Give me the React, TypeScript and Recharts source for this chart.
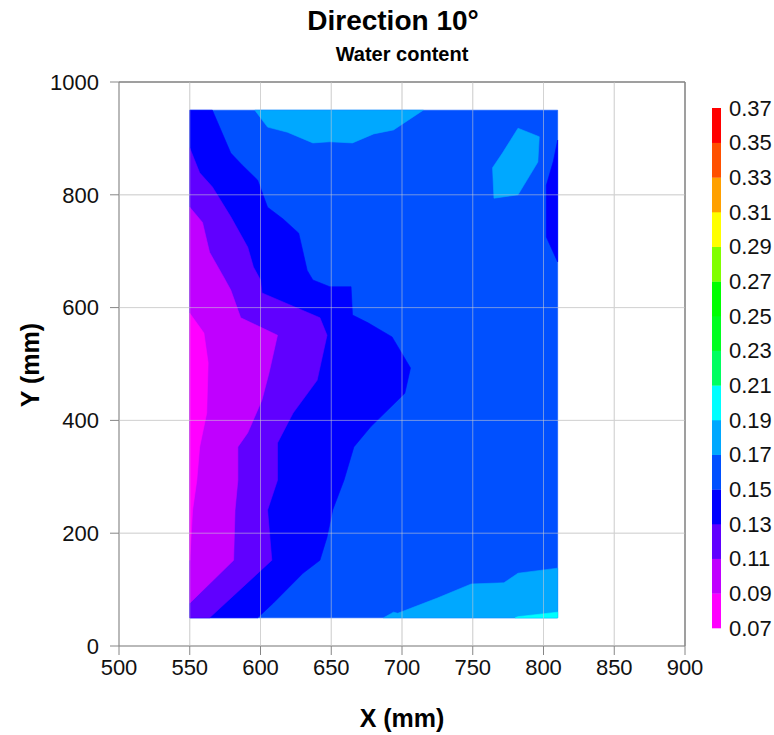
import { CartesianGrid, ReferenceLine, Scatter, ScatterChart, XAxis, YAxis } from "recharts";

const X_TICKS = [500, 550, 600, 650, 700, 750, 800, 850, 900];
const Y_TICKS = [0, 200, 400, 600, 800, 1000];

// colour bins, lower bound -> colour
const LEVELS = [0.07, 0.09, 0.11, 0.13, 0.15, 0.17, 0.19, 0.21, 0.23, 0.25, 0.27, 0.29, 0.31, 0.33, 0.35, 0.37];
const LEVEL_COLORS = [
  "#ff00ff", "#c000ff", "#6000ff", "#0000ff", "#0050ff", "#00a8ff", "#00ffff", "#00ff60",
  "#00ff20", "#00ff00", "#80ff00", "#ffff00", "#ffa000", "#ff5000", "#ff0000",
];

type Pt = [number, number];

// filled contour regions, in X/Y mm
const FIELD_015: Pt[] = [[550, 50], [810, 50], [810, 950], [550, 950]];
const TOP_017: Pt[] = [
  [596, 950], [605, 920], [619, 911], [637, 892], [649, 894], [665, 892], [680, 908], [694, 915], [715, 950],
];
const BLOB_017: Pt[] = [[782, 918], [797, 903], [796, 858], [782, 800], [765, 794], [764, 848], [771, 874]];
const BOTTOM_017: Pt[] = [
  [687, 50], [694, 60], [697, 58], [725, 85], [749, 110], [772, 112], [782, 129], [810, 138], [810, 50],
];
const BOTTOM_019: Pt[] = [[780, 50], [782, 52], [810, 60], [810, 50]];
const LEFT_013: Pt[] = [
  [550, 950], [566, 950], [579, 874], [587, 853], [598, 826], [605, 778], [616, 757], [627, 732],
  [633, 666], [637, 649], [649, 637], [664, 637], [665, 587], [676, 573], [693, 548], [706, 493],
  [702, 448], [678, 389], [666, 353], [659, 294], [651, 241], [647, 193], [642, 152], [630, 129],
  [609, 76], [598, 50], [550, 50],
];
const RIGHT_013: Pt[] = [[810, 897], [807, 860], [802, 817], [802, 725], [810, 681]];
const LEFT_011: Pt[] = [
  [550, 883], [557, 839], [566, 814], [579, 761], [591, 707], [595, 672], [600, 649], [601, 626],
  [642, 582], [647, 551], [640, 471], [623, 413], [612, 360], [612, 294], [605, 241], [608, 152],
  [564, 50], [550, 50],
];
const LEFT_009: Pt[] = [
  [550, 778], [559, 751], [564, 698], [574, 654], [579, 631], [586, 582], [612, 551], [606, 484],
  [601, 436], [591, 378], [584, 353], [584, 294], [582, 241], [581, 152], [550, 76],
];
const LEFT_007: Pt[] = [
  [550, 590], [560, 555], [563, 502], [562, 413], [557, 353], [555, 294], [552, 241], [550, 152],
];

const LAYERS: { id: string; level: number; pts: Pt[] }[] = [
  { id: "field", level: 0.15, pts: FIELD_015 },
  { id: "top", level: 0.17, pts: TOP_017 },
  { id: "blob", level: 0.17, pts: BLOB_017 },
  { id: "bottom", level: 0.17, pts: BOTTOM_017 },
  { id: "bottom19", level: 0.19, pts: BOTTOM_019 },
  { id: "left13", level: 0.13, pts: LEFT_013 },
  { id: "right13", level: 0.13, pts: RIGHT_013 },
  { id: "left11", level: 0.11, pts: LEFT_011 },
  { id: "left09", level: 0.09, pts: LEFT_009 },
  { id: "left07", level: 0.07, pts: LEFT_007 },
];

const FONT = '"Liberation Sans", Arial, sans-serif';
const AXIS = "#868686";
const GRID_OVER = "rgba(205,205,205,0.55)";
const TICK = { fontSize: 22, fill: "#111", fontFamily: FONT };

const colorOf = (level: number) => LEVEL_COLORS[LEVELS.findIndex((l) => Math.abs(l - level) < 1e-6)];

const noDot = () => <g />;

const toPath = (pts: { x: number; y: number }[], close: boolean) =>
  pts.map((p, i) => `${i ? "L" : "M"}${p.x},${p.y}`).join(" ") + (close ? " Z" : "");

// Scatter hands the joined points (in pixels) to `line`; close them into a filled region
const polygon = (color: string) => (props: any) => {
  const pts = props.points ?? [];
  if (!pts.length) return <g />;
  return <path d={toPath(pts, true)} fill={color} stroke={color} strokeWidth={0.6} />;
};

const gridStroke = (props: any) => {
  const pts = props.points ?? [];
  if (!pts.length) return <g />;
  return <path d={toPath(pts, false)} fill="none" stroke={GRID_OVER} strokeWidth={1} />;
};

// grid lines over the contours, one two-point series per tick
const GRID_SEGMENTS = [
  ...X_TICKS.slice(1, -1).map((x) => [{ x, y: 0 }, { x, y: 1000 }]),
  ...Y_TICKS.slice(1, -1).map((y) => [{ x: 500, y }, { x: 900, y }]),
];

function ColorBar() {
  const top = 108;
  const bottom = 628;
  const h = (bottom - top) / LEVEL_COLORS.length;
  return (
    <svg width={774} height={735} style={{ position: "absolute", left: 0, top: 0, pointerEvents: "none" }}>
      {LEVEL_COLORS.map((c, i) => (
        <rect key={c + i} x={712} y={bottom - (i + 1) * h} width={9} height={h + 0.3} fill={c} />
      ))}
      {LEVELS.map((l, i) => (
        <text key={l} x={729} y={bottom - i * h} dy="0.355em" fontSize={22} fontFamily={FONT} fill="#111">
          {l.toFixed(2)}
        </text>
      ))}
    </svg>
  );
}

export default function App() {
  return (
    <div
      style={{
        position: "fixed",
        left: 0,
        top: 0,
        width: 774,
        height: 735,
        overflow: "hidden",
        background: "#fff",
        fontFamily: FONT,
        color: "#000",
      }}
    >
      <div style={{ position: "absolute", left: 393, top: 7, transform: "translateX(-50%)", fontSize: 28, fontWeight: 700, lineHeight: 1, whiteSpace: "nowrap" }}>
        Direction 10°
      </div>
      <div style={{ position: "absolute", left: 402, top: 44, transform: "translateX(-50%)", fontSize: 20, fontWeight: 700, lineHeight: 1, whiteSpace: "nowrap" }}>
        Water content
      </div>
      <ScatterChart width={774} height={735} margin={{ top: 82, right: 89, bottom: 0, left: 19 }}>
        <CartesianGrid stroke="#d9d9d9" />
        <XAxis
          type="number"
          dataKey="x"
          domain={[500, 900]}
          ticks={X_TICKS}
          allowDataOverflow
          height={89}
          stroke={AXIS}
          tickSize={9}
          tickMargin={4}
          tick={TICK}
          interval={0}
        />
        <YAxis
          type="number"
          dataKey="y"
          domain={[0, 1000]}
          ticks={Y_TICKS}
          allowDataOverflow
          width={100}
          stroke={AXIS}
          tickSize={9}
          tickMargin={11}
          tick={TICK}
          interval={0}
        />
        {LAYERS.map((layer) => (
          <Scatter
            key={layer.id}
            name={layer.id}
            data={layer.pts.map(([x, y]) => ({ x, y }))}
            fill={colorOf(layer.level)}
            shape={noDot}
            line={polygon(colorOf(layer.level))}
            isAnimationActive={false}
            legendType="none"
          />
        ))}
        {GRID_SEGMENTS.map((seg, i) => (
          <Scatter
            key={"grid" + i}
            data={seg}
            fill="none"
            shape={noDot}
            line={gridStroke}
            isAnimationActive={false}
            legendType="none"
          />
        ))}
        <ReferenceLine y={1000} stroke={AXIS} strokeWidth={1.5} ifOverflow="visible" />
        <ReferenceLine x={900} stroke={AXIS} strokeWidth={1.5} ifOverflow="visible" />
      </ScatterChart>
      <ColorBar />
      <div style={{ position: "absolute", left: 402, top: 706, transform: "translateX(-50%)", fontSize: 25, fontWeight: 700, lineHeight: 1, whiteSpace: "nowrap" }}>
        X (mm)
      </div>
      <div
        style={{
          position: "absolute",
          left: 30,
          top: 365,
          transform: "translate(-50%, -50%) rotate(-90deg)",
          fontSize: 25,
          fontWeight: 700,
          lineHeight: 1,
          whiteSpace: "nowrap",
        }}
      >
        Y (mm)
      </div>
    </div>
  );
}
